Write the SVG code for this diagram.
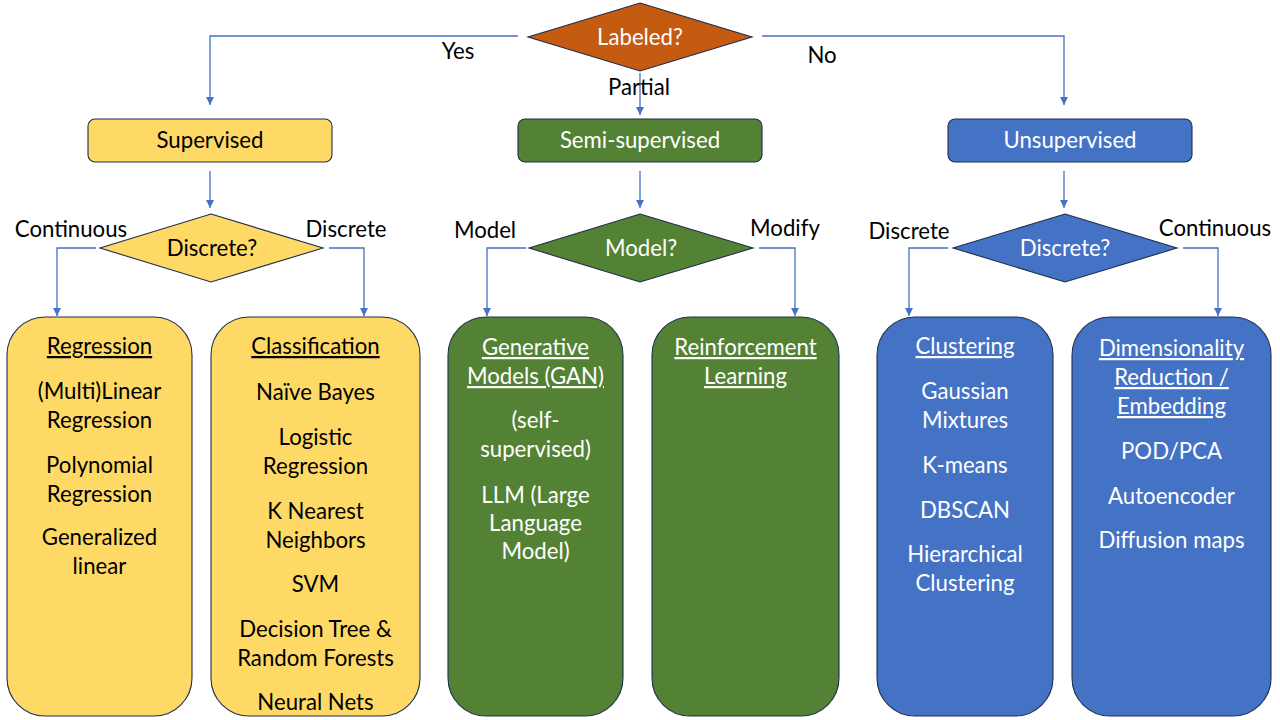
<svg xmlns="http://www.w3.org/2000/svg" width="1280" height="720" viewBox="0 0 1280 720">
<defs>
<style>
text{font-family:Lato,"Open Sans","Liberation Sans",sans-serif;font-size:22.2px;text-anchor:middle}
.k{fill:#000}
.w{fill:#fff}
.u{text-decoration:underline}
.ln{fill:none;stroke:#4472C4;stroke-width:1.3}
.sh{stroke:#1F2D4E;stroke-width:1.1}
.or{fill:#C55A11}
.ye{fill:#FFD966}
.gr{fill:#548235}
.bl{fill:#4472C4}
</style>
<marker id="ah" markerUnits="userSpaceOnUse" markerWidth="9" markerHeight="9" refX="8" refY="4.5" orient="auto">
<path d="M0,0.5 L8,4.5 L0,8.5 Z" fill="#4472C4"/>
</marker>
</defs>
<rect width="1280" height="720" fill="#fff"/>
<g id="connectors">
<path class="ln" d="M518,36 H210 V105" marker-end="url(#ah)"/>
<path class="ln" d="M762,36 H1064 V105" marker-end="url(#ah)"/>
<path class="ln" d="M640,73 V115" marker-end="url(#ah)"/>
<path class="ln" d="M210,171 V208" marker-end="url(#ah)"/>
<path class="ln" d="M640,171 V208" marker-end="url(#ah)"/>
<path class="ln" d="M1064,171 V208" marker-end="url(#ah)"/>
<path class="ln" d="M96,248 H57 V316" marker-end="url(#ah)"/>
<path class="ln" d="M329,248 H364 V316" marker-end="url(#ah)"/>
<path class="ln" d="M526,248 H487 V316" marker-end="url(#ah)"/>
<path class="ln" d="M759,248 H795 V316" marker-end="url(#ah)"/>
<path class="ln" d="M948,248 H909 V316" marker-end="url(#ah)"/>
<path class="ln" d="M1183,248 H1218 V316" marker-end="url(#ah)"/>
<text class="k" x="458" y="59">Yes</text>
<text class="k" x="822" y="63">No</text>
<text class="k" x="639" y="95">Partial</text>
<text class="k" x="71" y="237">Continuous</text>
<text class="k" x="346" y="237">Discrete</text>
<text class="k" x="485" y="238">Model</text>
<text class="k" x="785" y="236">Modify</text>
<text class="k" x="909" y="239">Discrete</text>
<text class="k" x="1215" y="236">Continuous</text>
</g>
<g id="labeled">
<path class="sh or" d="M640,3 L752,37 L640,71 L528,37 Z"/>
<text class="w" x="640" y="45">Labeled?</text>
</g>
<g id="supervised">
<rect class="sh ye" x="88" y="119" width="244" height="43" rx="7"/>
<text class="k" x="210" y="148">Supervised</text>
</g>
<g id="semi-supervised">
<rect class="sh gr" x="518" y="119" width="244" height="43" rx="7"/>
<text class="w" x="640" y="148">Semi-supervised</text>
</g>
<g id="unsupervised">
<rect class="sh bl" x="948" y="119" width="244" height="43" rx="7"/>
<text class="w" x="1070" y="148">Unsupervised</text>
</g>
<g id="discrete-sup">
<path class="sh ye" d="M211,214 L323,248 L211,282 L100,248 Z"/>
<text class="k" x="212" y="256">Discrete?</text>
</g>
<g id="model">
<path class="sh gr" d="M640,214 L753,248 L640,282 L529,248 Z"/>
<text class="w" x="641" y="256">Model?</text>
</g>
<g id="discrete-unsup">
<path class="sh bl" d="M1065,214 L1177,248 L1065,282 L953,248 Z"/>
<text class="w" x="1065" y="256">Discrete?</text>
</g>
<g id="regression">
<rect class="sh ye" x="7" y="317" width="185" height="399" rx="38"/>
<text class="k" x="99.5"><tspan class="u" x="99.5" y="354">Regression</tspan><tspan x="99.5" y="399">(Multi)Linear</tspan><tspan x="99.5" y="428">Regression</tspan><tspan x="99.5" y="473">Polynomial</tspan><tspan x="99.5" y="502">Regression</tspan><tspan x="99.5" y="545">Generalized</tspan><tspan x="99.5" y="574">linear</tspan></text>
</g>
<g id="classification">
<rect class="sh ye" x="211" y="317" width="209" height="399" rx="38"/>
<text class="k" x="315.5"><tspan class="u" x="315.5" y="354">Classification</tspan><tspan x="315.5" y="400">Naïve Bayes</tspan><tspan x="315.5" y="445">Logistic</tspan><tspan x="315.5" y="474">Regression</tspan><tspan x="315.5" y="519">K Nearest</tspan><tspan x="315.5" y="548">Neighbors</tspan><tspan x="315.5" y="592">SVM</tspan><tspan x="315.5" y="637">Decision Tree &amp;</tspan><tspan x="315.5" y="666">Random Forests</tspan><tspan x="315.5" y="710">Neural Nets</tspan></text>
</g>
<g id="generative">
<rect class="sh gr" x="448" y="317" width="175" height="399" rx="38"/>
<text class="w" x="535.5"><tspan class="u" x="535.5" y="355">Generative</tspan><tspan class="u" x="535.5" y="384">Models (GAN)</tspan><tspan x="535.5" y="428">(self-</tspan><tspan x="535.5" y="457">supervised)</tspan><tspan x="535.5" y="503">LLM (Large</tspan><tspan x="535.5" y="531">Language</tspan><tspan x="535.5" y="559">Model)</tspan></text>
</g>
<g id="reinforcement">
<rect class="sh gr" x="652" y="317" width="187" height="399" rx="38"/>
<text class="w" x="745.5"><tspan class="u" x="745.5" y="355">Reinforcement</tspan><tspan class="u" x="745.5" y="384">Learning</tspan></text>
</g>
<g id="clustering">
<rect class="sh bl" x="877" y="317" width="176" height="399" rx="38"/>
<text class="w" x="965"><tspan class="u" x="965" y="354">Clustering</tspan><tspan x="965" y="399">Gaussian</tspan><tspan x="965" y="428">Mixtures</tspan><tspan x="965" y="473">K-means</tspan><tspan x="965" y="518">DBSCAN</tspan><tspan x="965" y="562">Hierarchical</tspan><tspan x="965" y="591">Clustering</tspan></text>
</g>
<g id="dimensionality">
<rect class="sh bl" x="1072" y="317" width="199" height="399" rx="38"/>
<text class="w" x="1171.5"><tspan class="u" x="1171.5" y="356">Dimensionality</tspan><tspan class="u" x="1171.5" y="385">Reduction /</tspan><tspan class="u" x="1171.5" y="414">Embedding</tspan><tspan x="1171.5" y="459">POD/PCA</tspan><tspan x="1171.5" y="504">Autoencoder</tspan><tspan x="1171.5" y="548">Diffusion maps</tspan></text>
</g>
</svg>
